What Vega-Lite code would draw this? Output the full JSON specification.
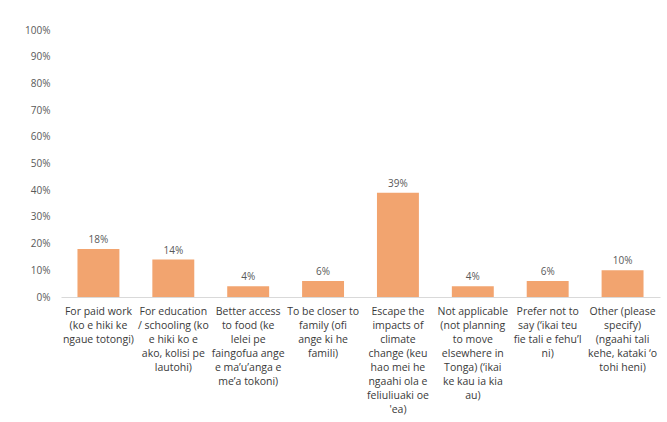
{
  "$schema": "https://vega.github.io/schema/vega-lite/v6.json",
  "width": 599,
  "height": 267,
  "autosize": {"type": "none"},
  "padding": {"left": 61, "top": 30, "right": 7, "bottom": 125},
  "background": "white",
  "config": {"view": {"stroke": null}, "font": "Open Sans"},
  "data": {
    "values": [
      {"reason": "For paid work|(ko e hiki ke|ngaue totongi)", "share": 0.18},
      {"reason": "For education|/ schooling (ko|e hiki ko e|ako, kolisi pe|lautohi)", "share": 0.14},
      {"reason": "Better access|to food (ke|lelei pe|faingofua ange|e ma’u’anga e|me’a tokoni)", "share": 0.04},
      {"reason": "To be closer to|family (ofi|ange ki he|famili)", "share": 0.06},
      {"reason": "Escape the|impacts of|climate|change (keu|hao mei he|ngaahi ola e|feliuliuaki oe|'ea)", "share": 0.39},
      {"reason": "Not applicable|(not planning|to move|elsewhere in|Tonga) (‘ikai|ke kau ia kia|au)", "share": 0.04},
      {"reason": "Prefer not to|say (‘ikai teu|fie tali e fehu’I|ni)", "share": 0.06},
      {"reason": "Other (please|specify)|(ngaahi tali|kehe, kataki ‘o|tohi heni)", "share": 0.10}
    ]
  },
  "encoding": {
    "x": {
      "field": "reason",
      "type": "nominal",
      "sort": null,
      "scale": {"paddingInner": 0.44, "paddingOuter": 0.22},
      "axis": {
        "title": null,
        "labelAngle": 0,
        "labelExpr": "split(datum.label, '|')",
        "labelFontSize": 10.5,
        "labelColor": "#3a3a3a",
        "labelLineHeight": 14,
        "labelPadding": 9,
        "labelLimit": 0,
        "labelOverlap": false,
        "ticks": false,
        "domainColor": "#d9d9d9",
        "labelBaseline": "top"
      }
    },
    "y": {
      "field": "share",
      "type": "quantitative",
      "scale": {"domain": [0, 1]},
      "axis": {
        "title": null,
        "format": ".0%",
        "values": [0, 0.1, 0.2, 0.3, 0.4, 0.5, 0.6, 0.7, 0.8, 0.9, 1],
        "labelOverlap": false,
        "grid": false,
        "domain": false,
        "ticks": false,
        "labelPadding": 11,
        "labelFontSize": 10,
        "labelColor": "#595959"
      }
    }
  },
  "layer": [
    {"mark": {"type": "bar", "color": "#F2A46F"}},
    {
      "mark": {"type": "text", "dy": -9, "fontSize": 10, "color": "#595959"},
      "encoding": {"text": {"field": "share", "type": "quantitative", "format": ".0%"}}
    }
  ]
}
